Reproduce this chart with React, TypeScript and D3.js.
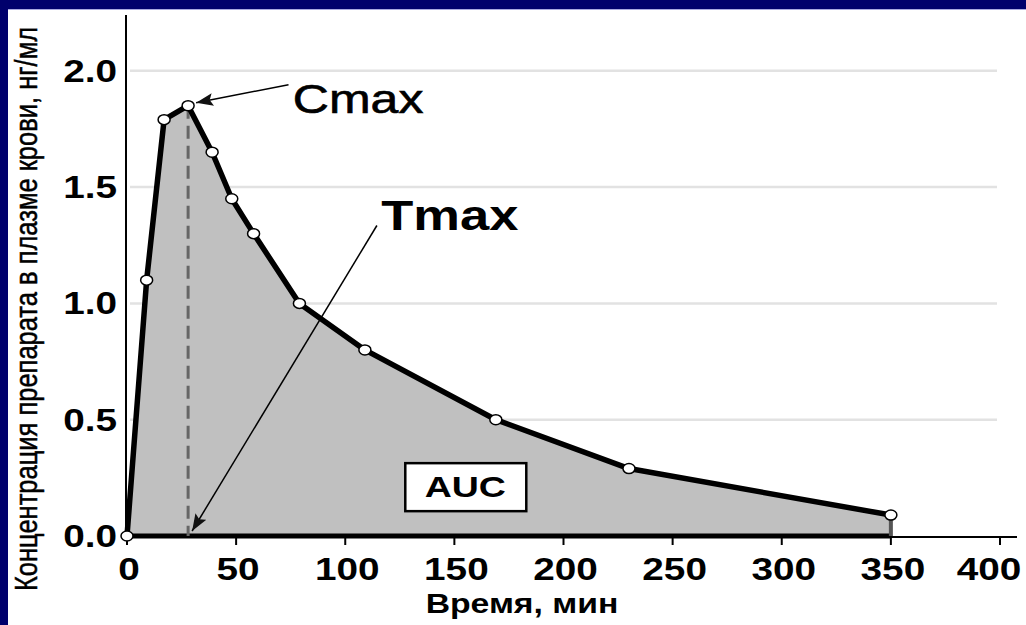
import React from "react";
import * as d3 from "d3";

const timeMin = [0, 9, 17, 28, 39, 48, 58, 79, 109, 169, 230, 350];
const concentration = [0, 1.1, 1.79, 1.85, 1.65, 1.45, 1.3, 1.0, 0.8, 0.5, 0.29, 0.09];
const xTicks = [0, 50, 100, 150, 200, 250, 300, 350, 400];
const yTicks = [0, 0.5, 1.0, 1.5, 2.0];
const yTitle = "Концентрация препарата в плазме крови, нг/мл";
const xTitle = "Время, мин";
const cmaxLabel = "Cmax";
const tmaxLabel = "Tmax";
const aucLabel = "AUC";
// annotation anchors (data units)
const cmaxText = { t: 76, c: 1.82 };
const cmaxArrowStart = { t: 74, c: 1.94 };
const tmaxText = { t: 116.5, c: 1.315 };
const tmaxArrowStart = { t: 114.5, c: 1.335 };
const aucCenter = { t: 155, c: 0.21 };

const W = 1026;
const H = 625;
const FONT = "'Liberation Sans', Arial, sans-serif";
const SX = 1.25;

export default function App() {
  const x = d3.scaleLinear().domain([0, 400]).range([127, 1000]);
  const y = d3.scaleLinear().domain([0, 2.24]).range([536, 15]);
  const pts = timeMin.map((t, i) => [t, concentration[i]] as [number, number]);
  const line = d3.line<[number, number]>().x((d) => x(d[0])).y((d) => y(d[1]));
  const area = d3
    .area<[number, number]>()
    .x((d) => x(d[0]))
    .y0(y(0))
    .y1((d) => y(d[1]));
  const peakIdx = d3.maxIndex(concentration);
  const peakT = timeMin[peakIdx];
  const peakC = concentration[peakIdx];
  const lastT = timeMin[timeMin.length - 1];
  const lastC = concentration[concentration.length - 1];

  return (
    <svg
      width={W}
      height={H}
      style={{ position: "absolute", left: 0, top: 0, background: "#fff" }}
      fontFamily={FONT}
    >
      <defs>
        <marker id="arr2" viewBox="0 0 16 12" refX="16" refY="6" markerWidth="17" markerHeight="13" orient="auto" markerUnits="userSpaceOnUse">
          <path d="M0,0 L16,6 L0,12 L3,6 z" fill="#111" />
        </marker>
      </defs>
      {/* frame */}
      <rect x={0} y={0} width={W} height={9} fill="#00006c" />
      <rect x={0} y={9} width={W} height={1} fill="#a8a8e0" />
      <rect x={0} y={0} width={8} height={H} fill="#00006c" />

      {/* gridlines */}
      {yTicks.filter((v) => v > 0).map((v) => (
        <line key={v} x1={130} x2={997} y1={y(v)} y2={y(v)} stroke="#e2e2e2" strokeWidth={2.5} />
      ))}

      {/* area */}
      <path d={area(pts) || ""} fill="#c0c0c0" />
      {/* base thick line */}
      <line x1={x(0)} x2={x(lastT)} y1={y(0)} y2={y(0)} stroke="#000" strokeWidth={5} />
      <line x1={x(lastT)} x2={x(lastT)} y1={y(lastC)} y2={y(0)} stroke="#555" strokeWidth={4} />

      {/* dashed Tmax line */}
      <line
        x1={x(peakT)}
        x2={x(peakT)}
        y1={y(peakC)}
        y2={y(0)}
        stroke="#666"
        strokeWidth={3}
        strokeDasharray="13,7"
      />

      {/* axes */}
      <line x1={126} x2={126} y1={15} y2={y(0) + 1} stroke="#000" strokeWidth={2} />
      <line x1={126} x2={1017} y1={y(0) + 1} y2={y(0) + 1} stroke="#000" strokeWidth={2} />
      {xTicks.map((t) => (
        <line key={t} x1={x(t)} x2={x(t)} y1={y(0)} y2={y(0) + 9} stroke="#000" strokeWidth={2} />
      ))}

      {/* data line */}
      <path d={line(pts) || ""} fill="none" stroke="#000" strokeWidth={5.5} strokeLinejoin="round" />
      {pts.map((p, i) => (
        <ellipse key={i} cx={x(p[0])} cy={y(p[1])} rx={6} ry={5} fill="#fff" stroke="#000" strokeWidth={1.5} />
      ))}

      {/* tick labels */}
      {yTicks.map((v) => (
        <g key={v} transform={`translate(117,${y(v)}) scale(${SX},1)`}>
          <text textAnchor="end" dominantBaseline="central" fontSize={31} fontWeight="bold" fill="#000">
            {v.toFixed(1)}
          </text>
        </g>
      ))}
      {xTicks.map((t) => (
        <g key={t} transform={`translate(${Math.min(x(t) + 2, 989)},580) scale(${SX},1)`}>
          <text textAnchor="middle" fontSize={31} fontWeight="bold" fill="#000">
            {t}
          </text>
        </g>
      ))}

      {/* axis titles */}
      <g transform={`translate(522,613) scale(${SX},1)`}>
        <text textAnchor="middle" fontSize={27} fontWeight="bold" fill="#000">
          {xTitle}
        </text>
      </g>
      <g transform={`translate(37,309) scale(${SX},1) rotate(-90)`}>
        <text textAnchor="middle" fontSize={25.5} fill="#000" stroke="#000" strokeWidth={0.4}>
          {yTitle}
        </text>
      </g>

      {/* Cmax annotation */}
      <line
        x1={x(cmaxArrowStart.t)}
        y1={y(cmaxArrowStart.c)}
        x2={x(peakT) + 8}
        y2={y(peakC) - 3}
        stroke="#000"
        strokeWidth={1.5}
        markerEnd="url(#arr2)"
      />
      <g transform={`translate(${x(cmaxText.t)},${y(cmaxText.c)}) scale(${SX},1)`}>
        <text fontSize={40} fill="#000" stroke="#000" strokeWidth={0.6}>
          {cmaxLabel}
        </text>
      </g>

      {/* Tmax annotation */}
      <line
        x1={x(tmaxArrowStart.t)}
        y1={y(tmaxArrowStart.c)}
        x2={x(peakT) + 4}
        y2={y(0) - 5}
        stroke="#000"
        strokeWidth={1.5}
        markerEnd="url(#arr2)"
      />
      <g transform={`translate(${x(tmaxText.t)},${y(tmaxText.c)}) scale(${SX},1)`}>
        <text fontSize={42} fontWeight="bold" fill="#000">
          {tmaxLabel}
        </text>
      </g>

      {/* AUC box */}
      <rect
        x={x(aucCenter.t) - 60}
        y={y(aucCenter.c) - 24}
        width={121}
        height={48}
        fill="#fff"
        stroke="#000"
        strokeWidth={2.5}
      />
      <g transform={`translate(${x(aucCenter.t)},${y(aucCenter.c) + 10}) scale(${SX},1)`}>
        <text textAnchor="middle" fontSize={30} fontWeight="bold" fill="#000">
          {aucLabel}
        </text>
      </g>
    </svg>
  );
}
